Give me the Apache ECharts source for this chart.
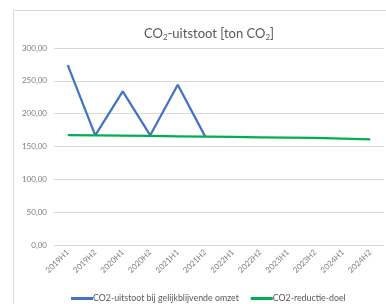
<!DOCTYPE html>
<html>
<head>
<meta charset="utf-8">
<script src="https://cdn.jsdelivr.net/npm/echarts@6/dist/echarts.min.js"></script>
<style>
html, body { margin: 0; padding: 0; background: #fff; }
#chart { width: 386px; height: 304px; }
</style>
</head>
<body>
<div id="chart"></div>
<script>
var periods = ['2019H1', '2019H2', '2020H1', '2020H2', '2021H1', '2021H2',
    '2022H1', '2022H2', '2023H1', '2023H2', '2024H1', '2024H2'];
var uitstoot = [274, 167, 234, 167, 244, 165, null, null, null, null, null, null];
var doel = [167.5, 167, 166.5, 166, 165.5, 165, 164.5, 164, 163.5, 163, 162, 161];
var yTicks = [0, 50, 100, 150, 200, 250, 300];

var myChart = echarts.init(document.getElementById('chart'));
var font = 'Lato, "Liberation Sans", sans-serif';

var option = {
    animation: false,
    textStyle: { fontFamily: font },
    graphic: [{
        type: 'rect',
        shape: { x: 13.5, y: 10.5, width: 400, height: 320 },
        style: { fill: 'none', stroke: '#d9d9d9', lineWidth: 1 },
        silent: true
    }],
    title: {
        text: 'CO{sub|2}-uitstoot [ton CO{sub|2}]',
        left: 204,
        textAlign: 'center',
        top: 22,
        textStyle: {
            fontFamily: font,
            fontSize: 13,
            fontWeight: 'normal',
            color: '#595959',
            rich: {
                sub: { fontSize: 8, color: '#595959', fontFamily: font, verticalAlign: 'bottom', padding: [6, 0, 0, 0] }
            }
        }
    },
    legend: {
        left: 66,
        top: 289,
        itemWidth: 22,
        itemHeight: 3,
        itemGap: 12,
        icon: 'rect',
        textStyle: { fontSize: 8.8, color: '#595959', fontFamily: font, padding: [0, 0, 0, -5] },
        data: ['CO2-uitstoot bij gelijkblijvende omzet', 'CO2-reductie-doel']
    },
    grid: {
        left: 54,
        right: 2,
        top: 48,
        bottom: 59
    },
    xAxis: {
        type: 'category',
        data: periods,
        boundaryGap: true,
        axisLine: { show: false },
        axisTick: { show: false },
        axisLabel: {
            rotate: 45,
            fontSize: 8,
            color: '#7f7f7f',
            margin: 6,
            interval: 0
        }
    },
    yAxis: {
        type: 'value',
        min: yTicks[0],
        max: yTicks[yTicks.length - 1],
        interval: 50,
        axisLine: { show: false },
        axisTick: { show: false },
        axisLabel: {
            fontSize: 8,
            color: '#7f7f7f',
            margin: 7,
            formatter: function (v) { return v.toFixed(2).replace('.', ','); }
        },
        splitLine: { lineStyle: { color: '#d9d9d9', width: 1 } }
    },
    series: [
        {
            name: 'CO2-uitstoot bij gelijkblijvende omzet',
            type: 'line',
            data: uitstoot,
            showSymbol: false,
            symbol: 'none',
            color: '#4472C4',
            lineStyle: { width: 2.25, color: '#4472C4' }
        },
        {
            name: 'CO2-reductie-doel',
            type: 'line',
            data: doel,
            showSymbol: false,
            symbol: 'none',
            color: '#00B050',
            lineStyle: { width: 2.25, color: '#00B050' }
        }
    ]
};
myChart.setOption(option);
</script>
</body>
</html>
